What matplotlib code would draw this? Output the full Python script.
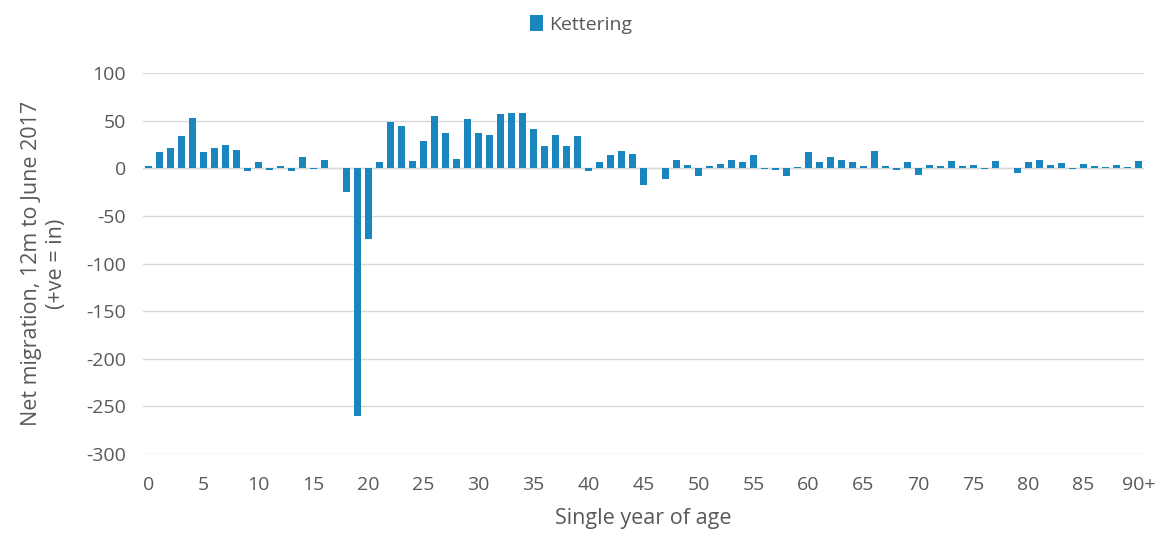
import matplotlib.pyplot as plt

# Dados (idade simples 0..90+)
idades = list(range(91))
rotulos = [str(i) for i in range(0, 90, 5)] + ["90+"]
migracao = [
    3, 17, 21, 34, 53, 17, 21, 25, 19, -3,
    7, -2, 3, -3, 12, -1, 9, 0, -25, -260,
    -74, 7, 49, 44, 8, 29, 55, 37, 10, 52,
    37, 35, 57, 58, 58, 41, 23, 35, 23, 34,
    -3, 7, 14, 18, 15, -17, 0, -11, 9, 4,
    -8, 2, 5, 9, 7, 14, -1, -2, -8, 1,
    17, 7, 12, 9, 7, 2, 18, 3, -2, 7,
    -7, 4, 2, 8, 3, 4, -1, 8, 0.5, -5,
    7, 9, 4, 6, -1, 5, 2, 1, 4, 1,
    8,
]

cinza = "#595959"
azul = "#1a86bf"

plt.rcParams['font.family'] = ['Open Sans', 'DejaVu Sans']
plt.rcParams['axes.unicode_minus'] = False

fig = plt.figure(figsize=(11.62, 5.38), dpi=100)
ax = fig.add_axes([0.123, 0.156, 0.8615, 0.708])

ax.bar(idades, migracao, width=0.65, color=azul, label="Kettering", zorder=3)

ax.set_xlim(-0.5, 90.5)
ax.set_ylim(-300, 100)
ax.set_yticks(range(-300, 101, 50))
ax.set_xticks(range(0, 91, 5))
ax.set_xticklabels(rotulos)

ax.grid(axis="y", color="#d9d9d9", linewidth=1, zorder=0)
ax.axhline(0, color="#d9d9d9", linewidth=1, zorder=1)
for lado in ax.spines.values():
    lado.set_visible(False)
ax.tick_params(length=0, labelsize=14, labelcolor=cinza)
ax.tick_params(axis="x", pad=16)
ax.tick_params(axis="y", pad=12)

ax.set_xlabel("Single year of age", fontsize=15.5, color=cinza, labelpad=10)
ax.set_ylabel("Net migration, 12m to June 2017\n(+ve = in)", fontsize=15.5,
              color=cinza, labelpad=14, linespacing=1.25)

fig.legend(loc="upper center", bbox_to_anchor=(0.5, 1.005), frameon=False,
           fontsize=14, labelcolor=cinza, handlelength=0.7, handleheight=0.9,
           handletextpad=0.3)

plt.savefig("out.png", dpi=100)
plt.close()
